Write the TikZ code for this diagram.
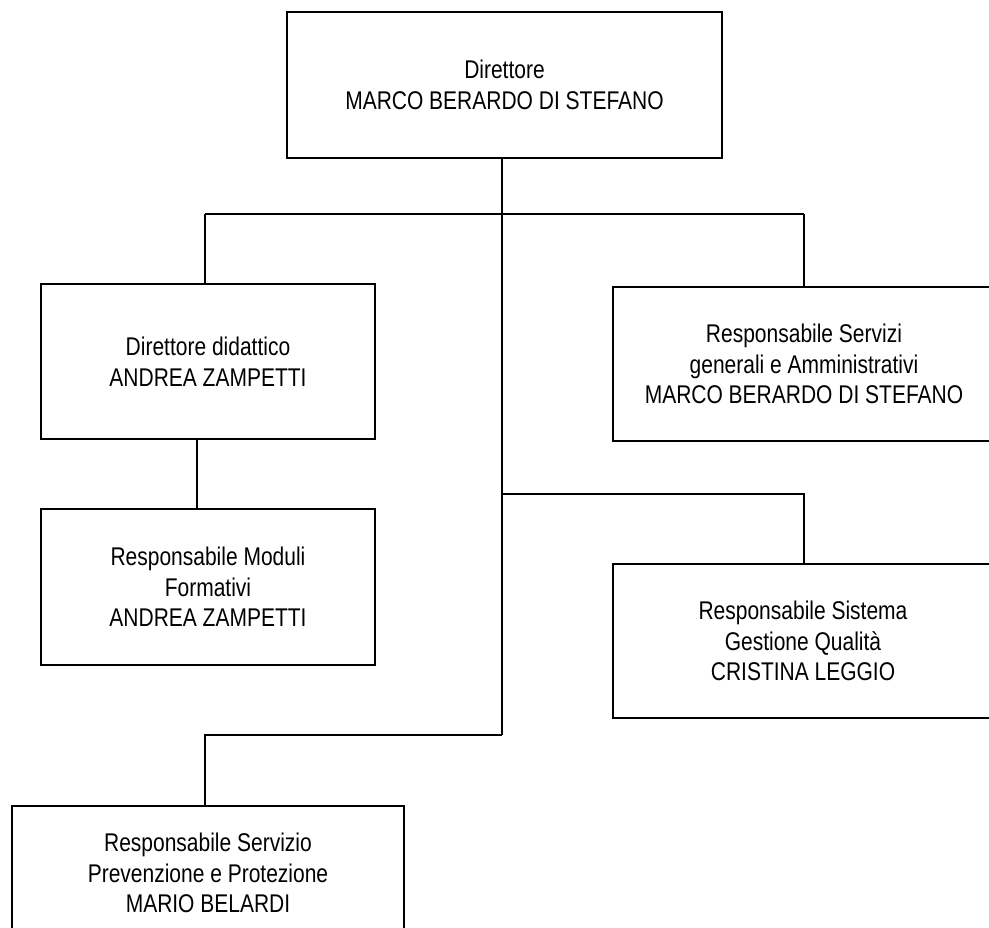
\documentclass[tikz,border=0pt]{standalone}
\usepackage{fontspec}
\setmainfont{Liberation Sans}[FakeStretch=0.82]
\begin{document}
\begin{tikzpicture}[x=1pt,y=-1pt,
  box/.style={draw, line width=1.8pt, rectangle, align=center, inner sep=0pt,
    font=\fontsize{25.6}{30.5}\selectfont},
  link/.style={line width=1.8pt}]
\useasboundingbox (0,0) rectangle (989,928);
\node[box, minimum width=435pt, minimum height=146pt] (top) at (504.5,85)
  {Direttore\\MARCO BERARDO DI STEFANO};
\node[box, minimum width=334pt, minimum height=155pt] (b2) at (208,361.5)
  {Direttore didattico\\ANDREA ZAMPETTI};
\node[box, minimum width=382pt, minimum height=154pt] (b3) at (804,364)
  {Responsabile Servizi\\generali e Amministrativi\\MARCO BERARDO DI STEFANO};
\node[box, minimum width=334pt, minimum height=156pt] (b4) at (208,587)
  {Responsabile Moduli\\Formativi\\ANDREA ZAMPETTI};
\node[box, minimum width=380pt, minimum height=154pt] (b5) at (803,641)
  {Responsabile Sistema\\Gestione Qualit\`a\\CRISTINA LEGGIO};
\node[box, minimum width=392pt, minimum height=134pt] (b6) at (208,873)
  {Responsabile Servizio\\Prevenzione e Protezione\\MARIO BELARDI};
\coordinate (j1) at (502,214);
\coordinate (j2) at (502,494);
\coordinate (j3) at (502,735);
\coordinate (l1) at (205,214);
\coordinate (r1) at (804,214);
\coordinate (r2) at (804,494);
\coordinate (l3) at (205,735);
\draw[link] (top.south -| j1) -- (j3);
\draw[link] (l1) -- (r1);
\draw[link] (l1) -- (l1 |- b2.north);
\draw[link] (r1) -- (r1 |- b3.north);
\draw[link] ([xshift=-11pt]b2.south) -- ([xshift=-11pt]b4.north);
\draw[link] (j2) -- (r2) -- (r2 |- b5.north);
\draw[link] (j3) -- (l3) -- (l3 |- b6.north);
\end{tikzpicture}
\end{document}
